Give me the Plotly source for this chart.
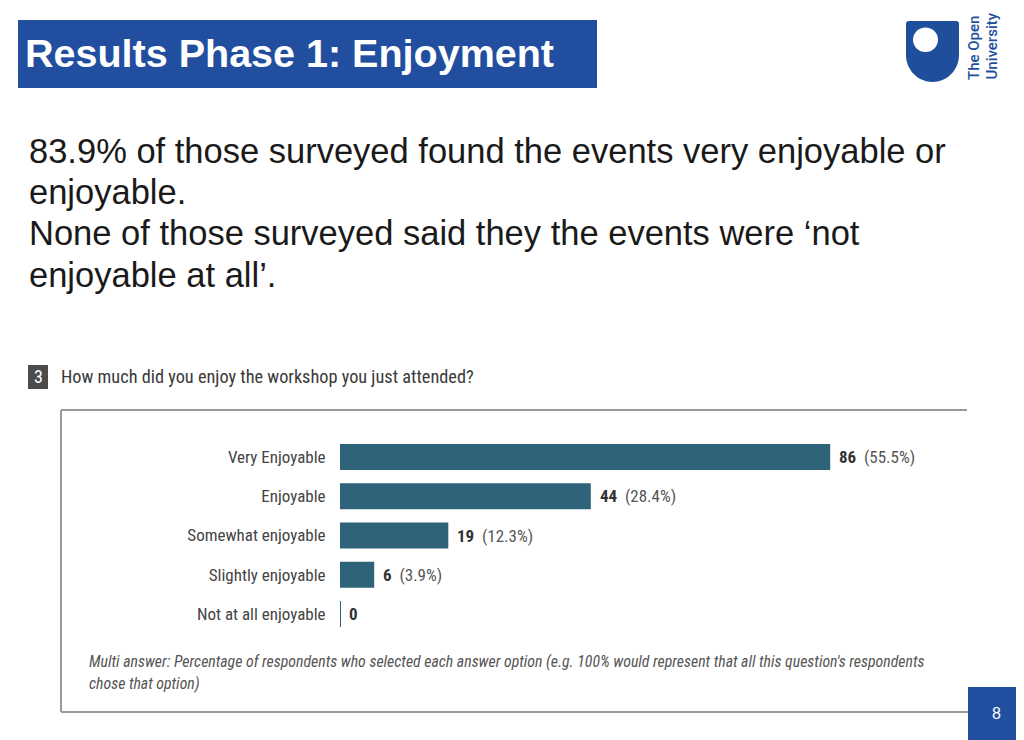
import plotly.graph_objects as go

# page has an 8px body margin, so the figure sits at (8, 8)
OFF = 8
W, H = 1024 - OFF, 740 - OFF

categories = ['Very Enjoyable', 'Enjoyable', 'Somewhat enjoyable', 'Slightly enjoyable', 'Not at all enjoyable']
counts = [86, 44, 19, 6, 0]
percents = ['55.5%', '28.4%', '12.3%', '3.9%', '']

title_text = 'Results Phase 1: Enjoyment'
body_lines = [
    '83.9% of those surveyed found the events very enjoyable or',
    'enjoyable.',
    'None of those surveyed said they the events were \u2018not',
    'enjoyable at all\u2019.',
]
question_no = '3'
question_text = 'How much did you enjoy the workshop you just attended?'
footnote_lines = [
    "Multi answer: Percentage of respondents who selected each answer option (e.g. 100% would represent that all this question's respondents",
    'chose that option)',
]
page_no = '8'

BLUE = '#214E9E'
BAR = '#2E6379'
NARROW = 'Liberation Sans Narrow, Roboto Condensed, Roboto, sans-serif'
ARIAL = 'Liberation Sans, Arial, sans-serif'


def px(x):
    return (x - OFF) / W


def py(y):
    return 1 - (y - OFF) / H


def path(points):
    # points: list of (cmd, [(x, y), ...]) in pixel coords
    out = ''
    for cmd, pts in points:
        out += cmd + ' '.join(f'{px(x):.5f},{py(y):.5f}' for x, y in pts) + ' '
    return out + 'Z'


fig = go.Figure()

# bars
line_w = [2 if c == 0 else 0 for c in counts]
fig.add_trace(go.Bar(
    x=counts, y=categories, orientation='h',
    marker=dict(color=BAR, line=dict(color=BAR, width=line_w)),
    hoverinfo='skip', showlegend=False,
))

shapes = []
annotations = []

# title box
shapes.append(dict(type='rect', xref='paper', yref='paper', x0=px(18), x1=px(597), y0=py(88), y1=py(20),
                   fillcolor=BLUE, line=dict(width=0), layer='below'))
annotations.append(dict(xref='paper', yref='paper', x=px(23), y=py(53), xanchor='left', yanchor='middle',
                        text=f'<b>{title_text}</b>', showarrow=False,
                        font=dict(family=ARIAL, size=39.5, color='white')))

# OU logo
shapes.append(dict(type='path', xref='paper', yref='paper', fillcolor='#1F4E9B', line=dict(width=0),
                   path=path([('M', [(906, 24)]), ('Q', [(906, 21), (909, 21)]), ('L', [(956, 21)]),
                              ('Q', [(959, 21), (959, 24)]), ('L', [(959, 55)]),
                              ('C', [(959, 69.9), (947.1, 82), (932.5, 82)]),
                              ('C', [(917.9, 82), (906, 69.9), (906, 55)])])))
shapes.append(dict(type='circle', xref='paper', yref='paper', x0=px(913), x1=px(938), y0=py(52), y1=py(27.5),
                   fillcolor='white', line=dict(width=0)))
for txt, xx in [('The Open', 974), ('University', 991)]:
    annotations.append(dict(xref='paper', yref='paper', x=px(xx), y=py(82), xanchor='center', yanchor='bottom',
                            text=txt, textangle=-90, showarrow=False,
                            font=dict(family='Roboto, sans-serif', size=15, color='#1F4E9B', weight=500)))

# body text
for i, line in enumerate(body_lines):
    annotations.append(dict(xref='paper', yref='paper', x=px(27), y=py(151 + i * 41.2), xanchor='left',
                            yanchor='middle', text=line, showarrow=False,
                            font=dict(family=ARIAL, size=34.5, color='#1a1a1a')))

# question header
shapes.append(dict(type='rect', xref='paper', yref='paper', x0=px(28), x1=px(48), y0=py(389), y1=py(365),
                   fillcolor='#4b4b49', line=dict(width=0)))
annotations.append(dict(xref='paper', yref='paper', x=px(38), y=py(377), xanchor='center', yanchor='middle',
                        text=question_no, showarrow=False, font=dict(family=NARROW, size=18, color='white')))
annotations.append(dict(xref='paper', yref='paper', x=px(59), y=py(377), xanchor='left', yanchor='middle',
                        text=question_text, showarrow=False, font=dict(family=NARROW, size=18.3, color='#3a3a3a')))

# chart frame
for x0, y0, x1, y1 in [(61, 410, 967, 410), (61, 410, 61, 712), (61, 712, 967, 712)]:
    shapes.append(dict(type='line', xref='paper', yref='paper', x0=px(x0), x1=px(x1), y0=py(y0), y1=py(y1),
                       line=dict(color='#9a9a9a', width=2)))

# value labels
for c, n, p in zip(categories, counts, percents):
    t = f'<b>{n}</b>' + (f'&nbsp; <span style="color:#555">({p})</span>' if p else '')
    annotations.append(dict(xref='x', yref='y', x=n, y=c, xanchor='left', yanchor='middle', xshift=7,
                            text=t, showarrow=False, font=dict(family=NARROW, size=17, color='#333')))

# footnote
for i, line in enumerate(footnote_lines):
    annotations.append(dict(xref='paper', yref='paper', x=px(87), y=py(661 + i * 22), xanchor='left',
                            yanchor='middle', text=f'<i>{line}</i>', showarrow=False,
                            font=dict(family=NARROW, size=15.8, color='#555')))

# page number
shapes.append(dict(type='rect', xref='paper', yref='paper', x0=px(968), x1=px(1024), y0=py(740), y1=py(687),
                   fillcolor=BLUE, line=dict(width=0)))
shapes.append(dict(type='line', xref='paper', yref='paper', x0=px(950), x1=px(968), y0=py(712), y1=py(712),
                   line=dict(color='#9a9a9a', width=2)))
annotations.append(dict(xref='paper', yref='paper', x=px(996), y=py(713), xanchor='center', yanchor='middle',
                        text=page_no, showarrow=False, font=dict(family=ARIAL, size=16, color='white')))

fig.update_layout(
    width=W, height=H,
    margin=dict(l=0, r=0, t=0, b=0),
    paper_bgcolor='white', plot_bgcolor='white',
    bargap=0.34,
    shapes=shapes, annotations=annotations,
    xaxis=dict(domain=[px(340), px(967)], range=[0, 110], visible=False, fixedrange=True),
    yaxis=dict(domain=[py(633.6), py(437.4)], categoryorder='array', categoryarray=categories,
               autorange='reversed', showgrid=False, zeroline=False, showline=False,
               ticks='outside', ticklen=10, tickcolor='rgba(0,0,0,0)',
               tickfont=dict(family=NARROW, size=17, color='#444'), fixedrange=True),
)

fig.write_html('out.html', config={'displayModeBar': False})
